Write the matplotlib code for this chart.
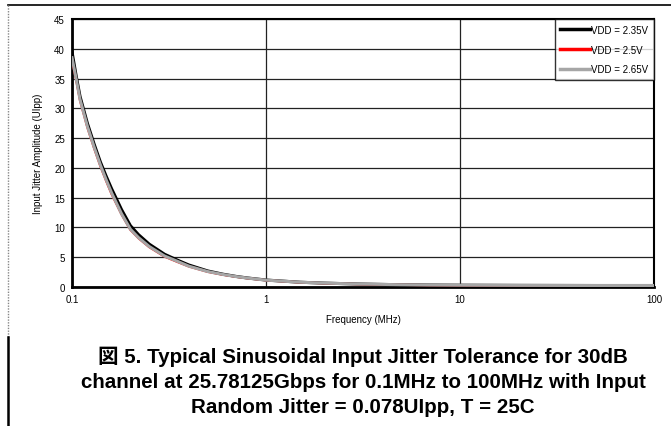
import matplotlib
matplotlib.use("Agg")
import matplotlib.pyplot as plt
from matplotlib.lines import Line2D

plt.rcParams['font.family'] = ['Liberation Sans', 'Noto Sans CJK JP', 'DejaVu Sans']

freq_mhz = [0.1, 0.105, 0.11, 0.12, 0.13, 0.14, 0.15, 0.16, 0.18, 0.2, 0.22, 0.25,
            0.3, 0.35, 0.4, 0.5, 0.6, 0.7, 0.8, 1, 1.5, 2, 3, 5, 7, 10, 20, 50, 100]
jit_235 = [39.5, 35.5, 32.0, 27.5, 24.0, 21.0, 18.6, 16.5, 13.0, 10.3, 8.8, 7.2,
           5.5, 4.5, 3.7, 2.7, 2.15, 1.78, 1.52, 1.17, 0.8, 0.65, 0.5, 0.38, 0.33, 0.3, 0.27, 0.25, 0.25]
jit_250 = [38.0, 34.8, 31.3, 26.8, 23.3, 20.3, 17.8, 15.6, 12.2, 9.6, 8.2, 6.7,
           5.1, 4.2, 3.45, 2.55, 2.05, 1.72, 1.47, 1.13, 0.78, 0.63, 0.48, 0.36, 0.31, 0.28, 0.25, 0.23, 0.23]
jit_265 = [38.5, 35.0, 31.5, 27.0, 23.5, 20.5, 18.0, 15.8, 12.3, 9.7, 8.3, 6.8,
           5.2, 4.3, 3.5, 2.6, 2.1, 1.75, 1.5, 1.15, 0.8, 0.65, 0.5, 0.38, 0.33, 0.3, 0.27, 0.25, 0.25]
labels = ["VDD = 2.35V", "VDD = 2.5V", "VDD = 2.65V"]
x_ticks = [0.1, 1, 10, 100]
x_ticklabels = ["0.1", "1", "10", "100"]
y_ticks = [0, 5, 10, 15, 20, 25, 30, 35, 40, 45]
caption = ("図 5. Typical Sinusoidal Input Jitter Tolerance for 30dB\n"
           "channel at 25.78125Gbps for 0.1MHz to 100MHz with Input\n"
           "Random Jitter = 0.078UIpp, T = 25C")

W, H = 671, 427
fig = plt.figure(figsize=(W / 100, H / 100), dpi=100)

# page frame lines
fig.add_artist(Line2D([8 / W, 1.0], [1 - 6 / H, 1 - 6 / H], color='black', lw=1.2))
fig.add_artist(Line2D([8 / W, 8 / W], [1 - 6 / H, 1 - 338 / H], color='#888888', lw=1.0,
                      linestyle=(0, (1, 1))))
fig.add_artist(Line2D([8 / W, 8 / W], [1 - 338 / H, 0], color='black', lw=1.8))

ax = fig.add_axes([72 / W, 1 - 288 / H, (654 - 72) / W, (288 - 20) / H])
ax.set_xscale('log')
ax.set_xlim(0.1, 100)
ax.set_ylim(0, 45)

ax.plot(freq_mhz, jit_235, color='black', lw=2.2, label=labels[0], zorder=3)
ax.plot(freq_mhz, jit_250, color='red', lw=1.6, label=labels[1], zorder=3)
ax.plot(freq_mhz, jit_265, color='#a6a6a6', lw=2.2, label=labels[2], zorder=4)

ax.set_xticks(x_ticks)
ax.set_xticklabels(x_ticklabels)
ax.xaxis.set_minor_locator(matplotlib.ticker.NullLocator())
ax.set_yticks(y_ticks)
ax.tick_params(axis='both', length=0, labelsize=7, pad=5)
ax.grid(True, which='major', color='#222222', lw=0.9)
ax.set_axisbelow(True)
for side in ['left', 'bottom']:
    ax.spines[side].set_linewidth(2.0)
for side in ['top', 'right']:
    ax.spines[side].set_linewidth(1.5)

ax.set_xlabel("Frequency (MHz)", fontsize=7, labelpad=7)
ax.set_ylabel("Input Jitter Amplitude (UIpp)", fontsize=7, labelpad=8)

leg = ax.legend(loc='upper right', fontsize=7, frameon=True, fancybox=False,
                edgecolor='black', borderaxespad=0, handlelength=3.0,
                handletextpad=0.15, labelspacing=1.0, borderpad=0.6)
leg.get_frame().set_linewidth(1.0)
for h in leg.get_lines():
    h.set_linewidth(2.5)

fig.text(363 / W, 1 - 382 / H, caption, ha='center', va='center', fontsize=14.8,
         fontweight='bold', linespacing=1.38)

fig.savefig("out.png", dpi=100)
